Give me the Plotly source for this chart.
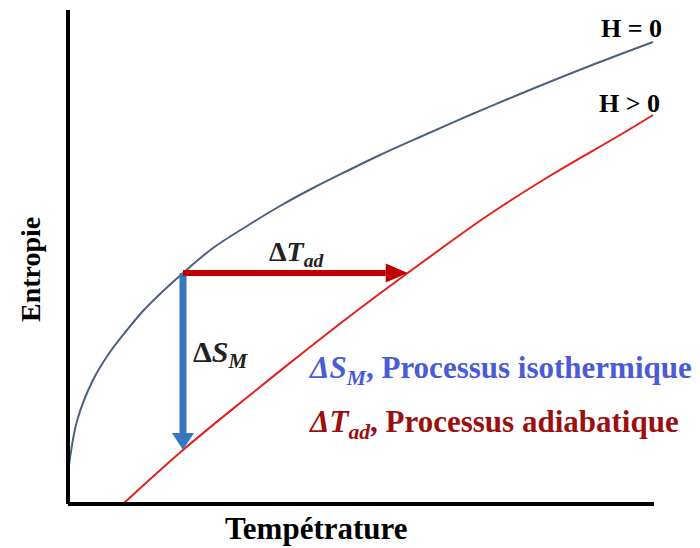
import numpy as np
import plotly.graph_objects as go

# Data (arbitrary units)
T_h0 = [0, 9, 25, 42, 59, 75, 92, 115, 145, 179, 212, 245, 279, 312, 352, 402, 452, 519, 585]
S_h0 = [31, 83, 124, 152, 174, 193, 210, 231, 256, 278, 298, 316, 333, 349, 367, 389, 410, 437, 462]

T_hp = [55, 115, 182, 232, 282, 337, 419, 485, 552, 585]
S_hp = [0, 54, 109, 149, 188, 229, 288, 330, 369, 389]

T0 = 115  # starting temperature of the processes

S0 = float(np.interp(T0, T_h0, S_h0))
S_iso = float(np.interp(T0, T_hp, S_hp))
T_ad = float(np.interp(S0, S_hp, T_hp))

BLUE_CURVE = "#4d617f"
RED_CURVE = "#e3201b"
ARROW_BLUE = "#3677bd"
ARROW_RED = "#c00000"
FONT = "Liberation Serif"

fig = go.Figure()
fig.add_trace(go.Scatter(x=T_h0, y=S_h0, mode="lines", line=dict(color=BLUE_CURVE, width=2, shape="spline", smoothing=1.0),
                         hoverinfo="skip", showlegend=False))
fig.add_trace(go.Scatter(x=T_hp, y=S_hp, mode="lines", line=dict(color=RED_CURVE, width=2, shape="spline", smoothing=1.0),
                         hoverinfo="skip", showlegend=False))

shapes = []
# vertical (isothermal) arrow
head_len_v, head_w_v = 17, 22
shapes.append(dict(type="line", x0=T0, x1=T0, y0=S0, y1=S_iso + head_len_v, xref="x", yref="y",
                   line=dict(color=ARROW_BLUE, width=7)))
shapes.append(dict(type="path", xref="x", yref="y",
                   path=f"M {T0-head_w_v/2} {S_iso+head_len_v} L {T0+head_w_v/2} {S_iso+head_len_v} L {T0} {S_iso} Z",
                   fillcolor=ARROW_BLUE, line=dict(color=ARROW_BLUE, width=0)))
# horizontal (adiabatic) arrow
head_len_h, head_w_h = 22, 19
shapes.append(dict(type="line", x0=T0, x1=T_ad - head_len_h, y0=S0, y1=S0, xref="x", yref="y",
                   line=dict(color=ARROW_RED, width=6)))
shapes.append(dict(type="path", xref="x", yref="y",
                   path=f"M {T_ad-head_len_h} {S0-head_w_h/2} L {T_ad-head_len_h} {S0+head_w_h/2} L {T_ad} {S0} Z",
                   fillcolor=ARROW_RED, line=dict(color=ARROW_RED, width=0)))
# axes
shapes.append(dict(type="line", xref="paper", yref="paper", x0=0, x1=0, y0=0, y1=1,
                   line=dict(color="black", width=4)))
shapes.append(dict(type="line", xref="paper", yref="paper", x0=0, x1=1, y0=0, y1=0,
                   line=dict(color="black", width=4)))

annotations = [
    dict(x=563, y=476, text="<b>H = 0</b>", showarrow=False, font=dict(family=FONT, size=26, color="black")),
    dict(x=561, y=401, text="<b>H > 0</b>", showarrow=False, font=dict(family=FONT, size=26, color="black")),
    dict(x=(T0 + T_ad) / 2 + 1, y=S0 + 20, text="<b>Δ<i>T</i><sub><i>ad</i></sub></b>", showarrow=False,
         font=dict(family=FONT, size=28, color="#222222")),
    dict(x=T0 + 8, y=150, text="<b>Δ<i>S</i><sub><i>M</i></sub></b>", showarrow=False, xanchor="left",
         font=dict(family=FONT, size=30, color="#222222")),
    dict(x=238, y=134, text="<b><i>ΔS<sub>M</sub></i>, Processus isothermique</b>", showarrow=False, xanchor="left",
         font=dict(family=FONT, size=31, color="#4b5bd6")),
    dict(x=238, y=80, text="<b><i>ΔT<sub>ad</sub></i>, Processus adiabatique</b>", showarrow=False, xanchor="left",
         font=dict(family=FONT, size=31, color="#9c0f0f")),
    dict(xref="paper", x=-38 / 586, y=234, text="<b>Entropie</b>", textangle=-90, showarrow=False,
         xanchor="center", yanchor="middle", font=dict(family=FONT, size=28, color="black")),
    dict(x=248, yref="paper", y=-24 / 494, text="<b>Tempétrature</b>", showarrow=False,
         xanchor="center", yanchor="middle", font=dict(family=FONT, size=31, color="black")),
]

fig.update_layout(
    width=700, height=548,
    margin=dict(l=68, r=46, t=10, b=44),
    paper_bgcolor="white", plot_bgcolor="white",
    xaxis=dict(range=[0, 586], visible=False, fixedrange=True),
    yaxis=dict(range=[0, 494], visible=False, fixedrange=True),
    shapes=shapes, annotations=annotations, showlegend=False,
)

fig.write_html("out.html")
